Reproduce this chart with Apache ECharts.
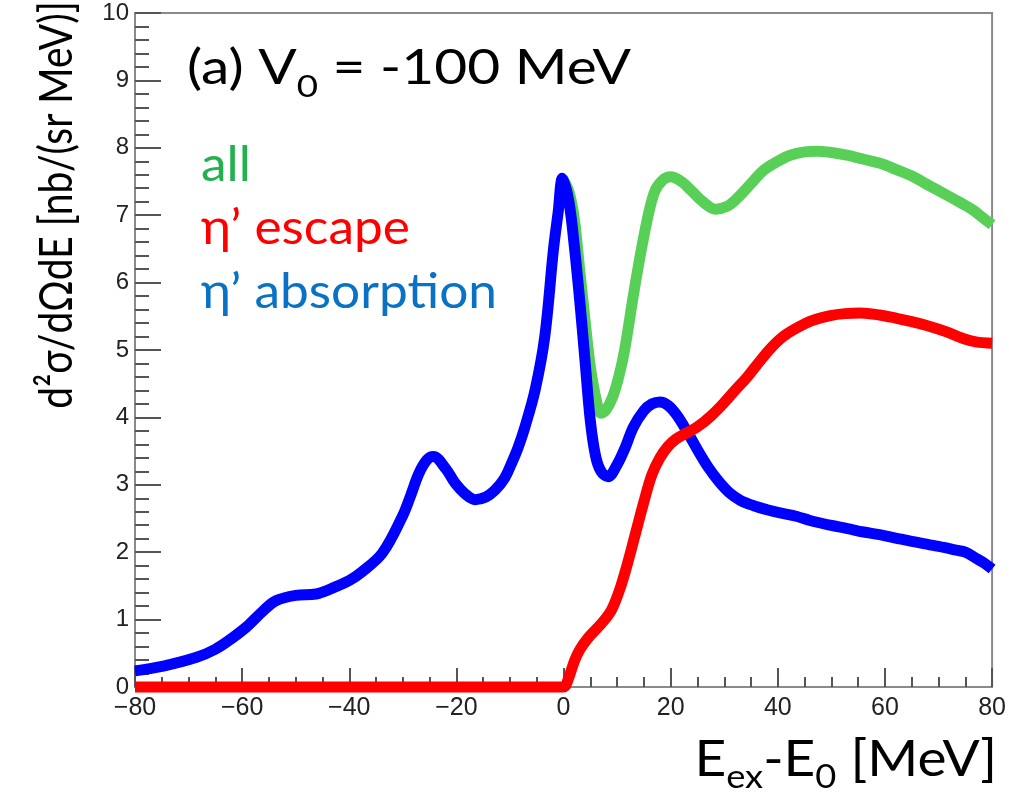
<!DOCTYPE html>
<html><head><meta charset="utf-8">
<script src="https://cdn.jsdelivr.net/npm/echarts@6/dist/echarts.min.js"></script>
<style>html,body{margin:0;padding:0;background:#fff}#c{width:1009px;height:793px}</style>
</head><body><div id="c"></div>
<script>
// ---- data ----
const xTickValues = [-80, -60, -40, -20, 0, 20, 40, 60, 80];
const yTickValues = [0, 1, 2, 3, 4, 5, 6, 7, 8, 9, 10];

const absorptionX = [-80, -74.7, -68.5, -65, -62.3, -59.2, -56.2, -53.7, -50, -46.2, -42.5, -40, -37.6, -33.8, -30.1, -28.5, -27, -25.5, -24.3, -22, -20.2, -18.3, -16.5, -14.5, -12.8, -11, -9.7, -8.5, -7.2, -5.3, -3.5, -1.9, -1, -0.2, 1, 2, 3, 4, 5, 6, 7, 8.3, 10, 11.5, 13, 15, 16.5, 18, 19.5, 21, 23, 25, 27, 29, 31, 33, 35.5, 38, 40, 43.6, 46, 49.8, 53, 56, 59, 62, 65, 68.4, 71, 73.3, 75, 77, 78.5, 80];
const absorptionY = [0.24, 0.31, 0.44, 0.56, 0.70, 0.89, 1.12, 1.28, 1.36, 1.38, 1.49, 1.58, 1.71, 1.99, 2.53, 2.85, 3.17, 3.37, 3.42, 3.24, 3.02, 2.86, 2.78, 2.82, 2.92, 3.1, 3.32, 3.55, 3.86, 4.41, 5.2, 6.48, 7.05, 7.55, 7.2, 6.55, 5.75, 4.85, 3.95, 3.42, 3.2, 3.12, 3.3, 3.55, 3.85, 4.1, 4.2, 4.23, 4.18, 4.05, 3.8, 3.52, 3.26, 3.05, 2.88, 2.77, 2.69, 2.63, 2.59, 2.53, 2.47, 2.40, 2.35, 2.30, 2.26, 2.21, 2.16, 2.11, 2.07, 2.03, 2.0, 1.91, 1.84, 1.75];

const escapeX = [-80, 0, 0.8, 2, 3, 4.5, 6, 7.5, 9, 10.5, 12, 13.5, 15, 16.5, 18, 19.5, 21, 23, 25, 27.5, 30, 32, 34.3, 36.5, 38.6, 41, 43.6, 46.5, 49.8, 52.5, 55.4, 59, 62.2, 65, 68.4, 71.5, 74.6, 77, 80];
const escapeY = [0, 0, 0.1, 0.38, 0.55, 0.72, 0.85, 0.98, 1.15, 1.45, 1.85, 2.3, 2.75, 3.15, 3.4, 3.57, 3.68, 3.77, 3.86, 4.02, 4.22, 4.4, 4.6, 4.82, 5.02, 5.2, 5.33, 5.44, 5.51, 5.54, 5.55, 5.52, 5.47, 5.42, 5.35, 5.27, 5.17, 5.12, 5.1];

const allX = [-0.2, 1, 2, 3, 4, 5, 6, 7, 8, 9.2, 10.3, 11.4, 13.2, 15.1, 16.9, 18.5, 20, 22, 23.8, 26, 28.4, 30.5, 32.4, 35, 37.4, 40, 42.3, 45, 47.3, 50, 52.9, 56, 59.1, 62, 65.3, 68, 71.5, 74, 76.4, 78, 80];
const allY = [7.55, 7.35, 6.95, 6.2, 5.45, 4.75, 4.3, 4.06, 4.12, 4.31, 4.6, 5.0, 5.89, 6.73, 7.33, 7.52, 7.57, 7.5, 7.37, 7.2, 7.09, 7.13, 7.25, 7.47, 7.67, 7.8, 7.89, 7.94, 7.95, 7.93, 7.89, 7.83, 7.77, 7.68, 7.57, 7.45, 7.30, 7.19, 7.08, 6.98, 6.86];

const legendLabels = ['all', 'η’ escape', 'η’ absorption'];
const seriesColors = ['#58d058', '#ff0000', '#0000ff'];
const legendTextColors = ['#22b14c', '#ff0000', '#0a72c4'];

const zip = (xs, ys) => xs.map((x, i) => [x, ys[i]]);

const chart = echarts.init(document.getElementById('c'), null, {renderer: 'canvas'});
const tickColor = '#555';
const frameColor = '#8a8a8a';
const titleFont = 'Lato';

function line(name, xs, ys, color, z) {
  return {
    name, type: 'line', data: zip(xs, ys), showSymbol: false, smooth: 0.35,
    clip: false, z,
    lineStyle: {color, width: 11, cap: 'butt', join: 'round'}
  };
}

const option = {
  animation: false,
  backgroundColor: '#fff',
  grid: {left: 135, right: 13, top: 13, bottom: 106, show: true, borderColor: frameColor, borderWidth: 2},
  xAxis: {
    type: 'value', min: xTickValues[0], max: xTickValues[xTickValues.length - 1], interval: 20,
    axisLine: {show: true, onZero: false, lineStyle: {color: frameColor, width: 2}},
    axisTick: {show: true, inside: true, length: 19, lineStyle: {color: tickColor, width: 2}},
    minorTick: {show: true, splitNumber: 4, length: 10, lineStyle: {color: tickColor, width: 2}},
    splitLine: {show: false},
    axisLabel: {fontFamily: 'Liberation Sans', fontSize: 25, color: '#222', margin: 9,
      formatter: v => String(v).replace('-', '\u2212')}
  },
  yAxis: {
    type: 'value', min: yTickValues[0], max: yTickValues[yTickValues.length - 1], interval: 1,
    axisLine: {show: true, onZero: false, lineStyle: {color: frameColor, width: 2}},
    axisTick: {show: true, inside: true, length: 26, lineStyle: {color: tickColor, width: 2}},
    minorTick: {show: true, splitNumber: 5, length: 14, lineStyle: {color: tickColor, width: 2}},
    splitLine: {show: false},
    axisLabel: {fontFamily: 'Liberation Sans', fontSize: 24, color: '#222', margin: 6}
  },
  series: [
    line(legendLabels[0], allX, allY, seriesColors[0], 2),
    line(legendLabels[2], absorptionX, absorptionY, seriesColors[2], 3),
    line(legendLabels[1], escapeX, escapeY, seriesColors[1], 4)
  ],
  graphic: [
    {type: 'text', x: 187, y: 36, scaleX: 1.185, z: 10, style: {
      text: '{m|(a) V}{s|0}{m| = -100 MeV}', fill: '#000', textAlign: 'left', textVerticalAlign: 'top',
      rich: {m: {fontFamily: titleFont, fontSize: 48, lineHeight: 66, fill: '#000'},
             s: {fontFamily: titleFont, fontSize: 31, lineHeight: 31, verticalAlign: 'bottom', fill: '#000'}}
    }},
    {type: 'text', x: 201, y: 190, scaleX: 1.05, z: 10, style: {text: legendLabels[0], fill: legendTextColors[0],
      font: '49px ' + titleFont, textAlign: 'left', textVerticalAlign: 'bottom'}},
    {type: 'text', x: 201, y: 253, scaleX: 1.05, z: 10, style: {text: legendLabels[1], fill: legendTextColors[1],
      font: '49px ' + titleFont, textAlign: 'left', textVerticalAlign: 'bottom'}},
    {type: 'text', x: 201, y: 317, scaleX: 1.05, z: 10, style: {text: legendLabels[2], fill: legendTextColors[2],
      font: '49px ' + titleFont, textAlign: 'left', textVerticalAlign: 'bottom'}},
    {type: 'text', x: 57, y: 205, rotation: Math.PI / 2, scaleY: 1.2, z: 10, style: {
      text: 'd²σ/dΩdE [nb/(sr MeV)]', fill: '#000', font: '39px ' + titleFont,
      textAlign: 'center', textVerticalAlign: 'middle'}},
    {type: 'text', x: 997, y: 726, scaleX: 1.1, z: 10, style: {
      text: '{m|E}{s|ex}{m|-E}{s|0}{m| [MeV]}', fill: '#000', textAlign: 'right', textVerticalAlign: 'top',
      rich: {m: {fontFamily: titleFont, fontSize: 50, lineHeight: 68, fill: '#000'},
             s: {fontFamily: titleFont, fontSize: 33, lineHeight: 33, verticalAlign: 'bottom', fill: '#000'}}
    }}
  ]
};
chart.setOption(option);
</script></body></html>
